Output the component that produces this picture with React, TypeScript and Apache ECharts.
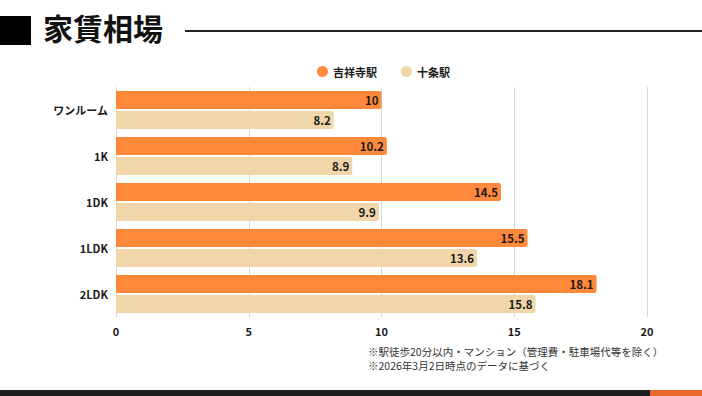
import React, { useEffect, useRef } from "react";
import * as echarts from "echarts";

const categories = ["ワンルーム", "1K", "1DK", "1LDK", "2LDK"];
const kichijoji = [10, 10.2, 14.5, 15.5, 18.1];
const jujo = [8.2, 8.9, 9.9, 13.6, 15.8];
const seriesNames = ["吉祥寺駅", "十条駅"];
const notes = [
  "※駅徒歩20分以内・マンション（管理費・駐車場代等を除く）",
  "※2026年3月2日時点のデータに基づく",
];
const title = "家賃相場";

const FONT = '"Noto Sans CJK JP", "Noto Sans", sans-serif';

export default function App() {
  const ref = useRef<HTMLDivElement>(null);
  useEffect(() => {
    document.body.style.margin = "0";
    const chart = echarts.init(ref.current!, null, { renderer: "svg" });
    const labelStyle = {
      show: true,
      position: "insideRight" as const,
      color: "#1a1a1a",
      fontWeight: "bold" as const,
      fontSize: 11.5,
      fontFamily: FONT,
      distance: 3,
    };
    chart.setOption({
      animation: false,
      textStyle: { fontFamily: FONT },
      legend: {
        left: 312,
        top: 61,
        padding: 5,
        itemWidth: 11,
        itemHeight: 11,
        itemGap: 24,
        icon: "circle",
        textStyle: { fontSize: 11, fontWeight: "bold", color: "#1a1a1a", fontFamily: FONT },
        data: seriesNames,
      },
      grid: { left: 116, right: 55, top: 87, bottom: 79, containLabel: false },
      xAxis: {
        type: "value",
        min: 0,
        max: 20,
        interval: 5,
        axisLine: { show: false },
        axisTick: { show: false },
        splitLine: { lineStyle: { color: "#d9d9d9", width: 1 } },
        axisLabel: { color: "#1a1a1a", fontWeight: "bold", fontSize: 11, fontFamily: FONT, margin: 8 },
      },
      yAxis: {
        type: "category",
        data: categories,
        inverse: true,
        axisLine: { show: false },
        axisTick: { show: false },
        axisLabel: { color: "#1a1a1a", fontWeight: "bold", fontSize: 11, fontFamily: FONT, margin: 8 },
      },
      series: [
        {
          name: seriesNames[0],
          type: "bar",
          data: kichijoji,
          barWidth: 18,
          barGap: "10%",
          itemStyle: { color: "#FF883A", borderRadius: [0, 2, 2, 0] },
          label: labelStyle,
        },
        {
          name: seriesNames[1],
          type: "bar",
          data: jujo,
          barWidth: 18,
          barGap: "10%",
          itemStyle: { color: "#F0D6A9", borderRadius: [0, 2, 2, 0] },
          label: labelStyle,
        },
      ],
      graphic: [
        { type: "rect", left: 0, top: 16, shape: { width: 31, height: 29 }, style: { fill: "#000" } },
        {
          type: "text",
          left: 43,
          top: 12,
          style: { text: title, fontSize: 30, fontWeight: "bold", fill: "#111", fontFamily: FONT },
        },
        { type: "rect", left: 185, top: 30, shape: { width: 517, height: 2 }, style: { fill: "#222" } },
        {
          type: "text",
          left: 368,
          top: 346,
          style: { text: notes[0], fontSize: 10.5, fill: "#333", fontFamily: FONT },
        },
        {
          type: "text",
          left: 368,
          top: 360,
          style: { text: notes[1], fontSize: 10.5, fill: "#333", fontFamily: FONT },
        },
        { type: "rect", left: 0, top: 390, shape: { width: 650, height: 6 }, style: { fill: "#1e1e1e" } },
        { type: "rect", left: 650, top: 390, shape: { width: 52, height: 6 }, style: { fill: "#E8692B" } },
      ],
    });
    return () => chart.dispose();
  }, []);
  return <div ref={ref} style={{ position: "absolute", left: 0, top: 0, width: 702, height: 396 }} />;
}
